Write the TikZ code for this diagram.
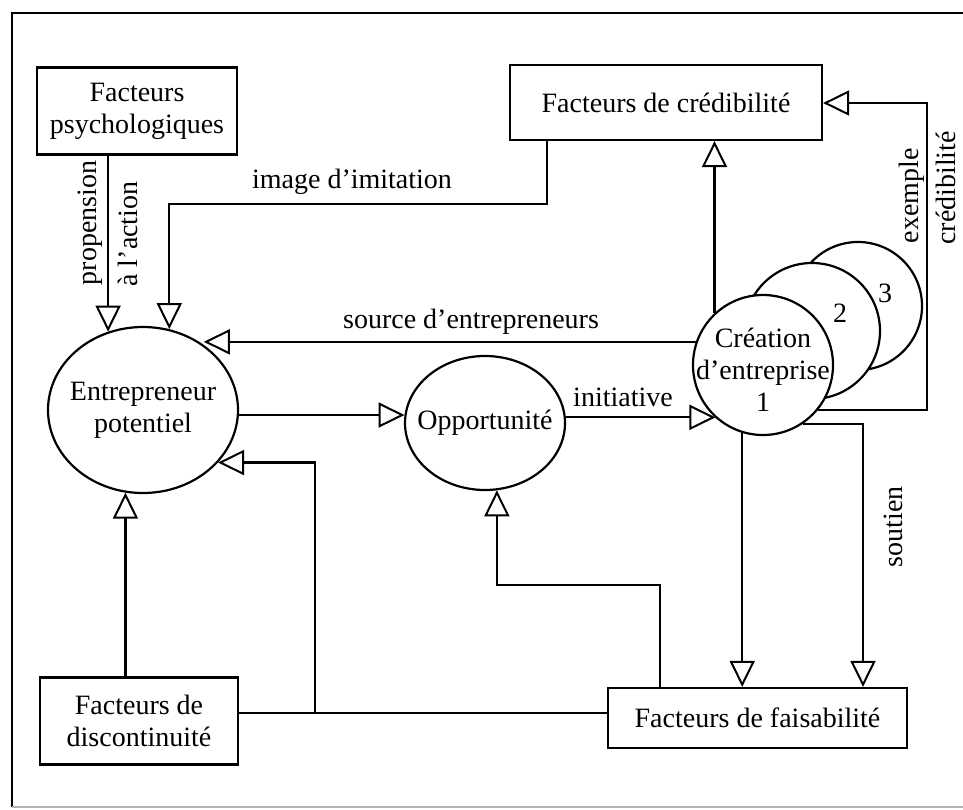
\documentclass[tikz,border=0pt]{standalone}
\usepackage{fontspec}
\setmainfont{Liberation Serif}
\usetikzlibrary{arrows.meta,shapes.geometric}
\begin{document}
\begin{tikzpicture}[x=1pt,y=-1pt, line width=2.2pt,
  every node/.style={font=\fontsize{28}{32}\selectfont},
  box/.style={draw, rectangle, inner sep=0pt, align=center},
  oval/.style={draw, ellipse, inner sep=0pt},
  txt/.style={inner sep=0pt, align=center},
  arr/.style={-{Triangle[open,length=26pt,width=25pt,line width=2pt]}},
  lbl/.style={inner sep=0pt}]
\useasboundingbox (0,0) rectangle (963,810);
\fill[white] (0,0) rectangle (963,810);
\draw (963,13) -- (12,13) -- (12,807);
\draw[gray!60] (12,807) -- (963,807);

% boxes
\node[box, minimum width=200pt, minimum height=87pt] (psy) at (137,111) {Facteurs\\psychologiques};
\node[box, minimum width=312pt, minimum height=75pt] (cred) at (666,102.5) {Facteurs de crédibilité};
\node[box, minimum width=198pt, minimum height=87pt] (disc) at (139,721) {Facteurs de\\discontinuité};
\node[box, minimum width=299pt, minimum height=60pt] (fais) at (757.5,718) {Facteurs de faisabilité};

% ellipses
\node[oval, minimum width=190pt, minimum height=166pt] (ent) at (143,410) {};
\node[txt] (entt) at (ent) {Entrepreneur\\potentiel};
\node[oval, minimum width=160pt, minimum height=134pt] (opp) at (485,423) {};
\node[txt] (oppt) at (opp) {Opportunité};

% stacked circles
\node[oval, fill=white, minimum size=128pt] (c3) at (858,306) {};
\node[oval, fill=white, minimum size=136pt] (c2) at (812,331) {};
\node[oval, fill=white, minimum size=140pt] (c1) at (763,365) {};
\node[txt] (c1t) at (763,370) {Création\\d'entreprise\\1};
\node[txt] (c2t) at (840,313) {2};
\node[txt] (c3t) at (885,293) {3};

% connectors
\draw[arr] (psy.south -| ent.114.4) -- (ent.114.4);
\coordinate (ii) at (547,204);
\draw[arr] (cred.south -| ii) -- (ii) -- (ii -| ent.72.6) -- (ent.72.6);
\draw[arr] (c1.161.6) -- (ent.47.8 |- c1.161.6);
\draw[arr] (ent.-3) -- (opp.174.2 |- ent.-3);
\draw[arr] (opp.4.3) -- (c1.-132.1 |- opp.4.3);
\draw[arr] (c1.133.3) -- (c1.133.3 |- cred.south);
\draw[arr] (c1.253.4) -- (c1.253.4 |- fais.north);
\coordinate (so) at (863,423);
\draw[arr] (c1.-56.1) -- (so |- c1.-56.1) -- (so |- fais.north);
\coordinate (ex) at (927,103);
\draw[arr] (c1.-39.8) -- (ex |- c1.-39.8) -- (ex) -- (ex -| cred.east);
\draw[arr] (disc.north -| ent.258.3) -- (ent.258.3);
\coordinate (j) at (315,713);
\draw (j -| disc.east) -- (j -| fais.west);
\draw[arr] (j) -- (j |- ent.-35.1) -- (ent.-35.1);
\coordinate (fo) at (660,585);
\draw[arr] (fo |- fais.north) -- (fo) -- (fo -| opp.-80.6) -- (opp.-80.6);

% labels
\node[lbl, rotate=90] (lprop) at (90,223) {propension};
\node[lbl, rotate=90] (lact) at (128,234) {à l'action};
\node[lbl] (limg) at (352,182) {image d'imitation};
\node[lbl] (lsrc) at (471,322) {source d'entrepreneurs};
\node[lbl] (lini) at (623,397) {initiative};
\node[lbl, rotate=90] (lex) at (912,196) {exemple};
\node[lbl, rotate=90] (lcr) at (946,188) {crédibilité};
\node[lbl, rotate=90] (lsou) at (893,527) {soutien};
\end{tikzpicture}
\end{document}
